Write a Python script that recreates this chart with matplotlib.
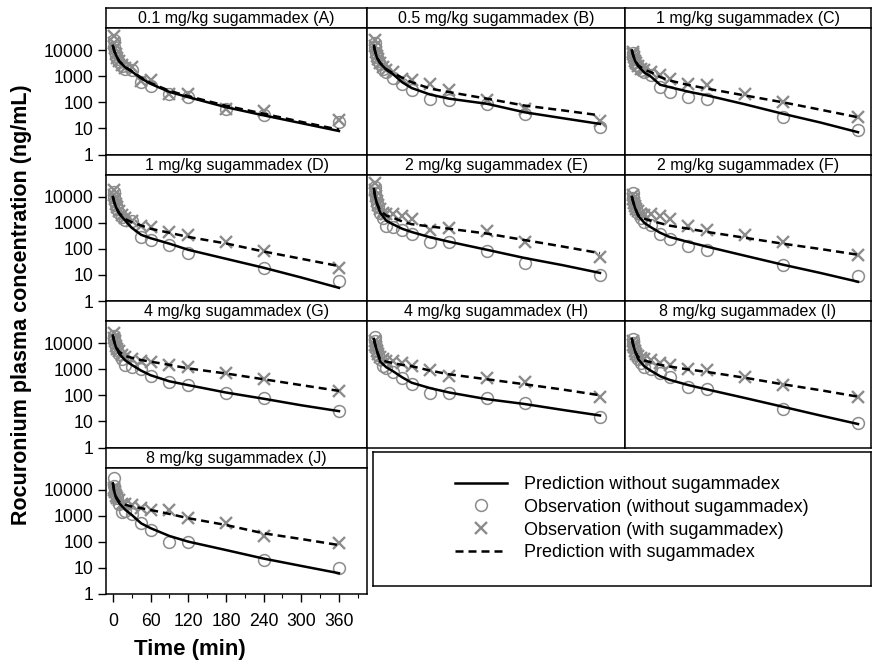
import numpy as np
import matplotlib
matplotlib.use("Agg")
import matplotlib.pyplot as plt
from matplotlib.ticker import FixedLocator, NullFormatter, LogLocator, FixedFormatter

plt.rcParams['font.family'] = ['Liberation Sans', 'DejaVu Sans']

nan = float('nan')

# ---------------- data ----------------
T_PRED = [0, 2, 5, 10, 20, 30, 45, 60, 90, 120, 180, 240, 300, 360]
T_OBS = [1, 2, 3, 5, 7, 10, 15, 20, 30, 45, 60, 90, 120, 180, 240, 360]

A_title = "0.1 mg/kg sugammadex (A)"
A_pred_without = [15000, 10000, 6500, 3800, 2200, 1550, 850, 520, 255, 160, 66, 32, 16, 8]
A_pred_with = [15000, 10000, 6500, 3900, 2300, 1600, 900, 560, 280, 175, 75, 37, 18, 9]
A_obs_without = [25000, 14000, 9000, 6000, 4500, 3500, 2500, 2000, 1800, 600, 430, 210, 160, 55, 33, 17]
A_obs_with = [35000, 20000, 12000, 7000, 5000, 3800, 2800, 2200, 2300, 650, 700, 215, 215, 58, 48, 22]

B_title = "0.5 mg/kg sugammadex (B)"
B_pred_without = [15000, 9000, 5200, 3200, 1800, 1250, 600, 360, 200, 140, 89, 42, 25, 15]
B_pred_with = [15000, 9000, 5200, 3300, 1900, 1350, 900, 600, 340, 250, 140, 76, 50, 32]
B_obs_without = [20000, 12000, 8000, 5500, 4000, 3000, 2000, 1500, 900, 520, 290, 140, 120, 89, 37, 11]
B_obs_with = [25000, 15000, 9000, 6000, 4500, 3300, 2300, 1800, 1470, 800, 700, 520, 290, 120, 58, 20]

C_title = "1 mg/kg sugammadex (C)"
C_pred_without = [10000, 6500, 4000, 2500, 1400, 1000, 480, 390, 260, 186, 85, 37, 17, 7.2]
C_pred_with = [10000, 6500, 4200, 2700, 1800, 1480, 950, 700, 470, 340, 186, 102, 53, 27]
C_obs_without = [8000, 6000, 4500, 3500, 2800, 2500, 1800, 1500, 1100, 390, 250, 160, 140, nan, 27, 8.4]
C_obs_with = [9000, 7000, 5500, 4000, 3200, 2600, 2000, 1700, 1480, 1100, 810, 520, 450, 215, 102, 28]

D_title = "1 mg/kg sugammadex (D)"
D_pred_without = [10000, 6500, 4000, 2300, 1200, 650, 350, 260, 160, 93, 42, 19, 8, 3.2]
D_pred_with = [10000, 6500, 4000, 2400, 1400, 1070, 800, 600, 420, 290, 163, 80, 42, 22]
D_obs_without = [15000, 10000, 7000, 5000, 3500, 2500, 1700, 1300, 1200, 290, 220, 142, 69, nan, 19, 6]
D_obs_with = [18000, 12000, 8000, 5500, 4000, 3000, 2000, 1600, 1200, 790, 690, 450, 340, 190, 80, 19]

E_title = "2 mg/kg sugammadex (E)"
E_pred_without = [20000, 10000, 5500, 2500, 1200, 900, 600, 450, 280, 190, 93, 45, 24, 12]
E_pred_with = [20000, 10000, 5500, 3000, 1900, 1600, 1150, 900, 730, 600, 390, 220, 125, 69]
E_obs_without = [25000, 14000, 9000, 6000, 4000, 2500, 1500, 790, 700, 520, 390, 190, 190, 85, 29, 10]
E_obs_with = [35000, 18000, 11000, 7000, 5000, 3500, 2500, 2200, 2200, 1900, 1400, 560, 630, 480, 190, 48]

F_title = "2 mg/kg sugammadex (F)"
F_pred_without = [10000, 6500, 3800, 1900, 1000, 690, 420, 290, 185, 122, 55, 25, 12, 5.5]
F_pred_with = [10000, 6500, 3800, 2000, 1450, 1230, 980, 790, 600, 450, 270, 160, 100, 60]
F_obs_without = [14000, 9000, 6000, 4500, 3500, 2500, 1500, 1070, 800, 390, 250, 134, 93, nan, 24, 9.3]
F_obs_with = [12000, 8000, 6000, 4500, 3500, 2800, 2300, 2100, 2180, 1800, 1400, 760, 560, 340, 190, 60]

G_title = "4 mg/kg sugammadex (G)"
G_pred_without = [20000, 12000, 7000, 4000, 2200, 1500, 900, 600, 350, 250, 130, 75, 42, 25]
G_pred_with = [20000, 12000, 7500, 4800, 3300, 2800, 2300, 2000, 1500, 1100, 700, 420, 250, 150]
G_obs_without = [20000, 15000, 10000, 7000, 5500, 4000, 2500, 1500, 1200, 1000, 550, 320, 250, 130, 80, 26]
G_obs_with = [25000, 16000, 12000, 8000, 6000, 5000, 3500, 3000, 2500, 2200, 2000, 1500, 1200, 700, 420, 150]

H_title = "4 mg/kg sugammadex (H)"
H_pred_without = [15000, 9000, 5000, 2000, 1200, 870, 500, 310, 190, 130, 72, 47, 28, 17]
H_pred_with = [15000, 9000, 5000, 2400, 2000, 1780, 1500, 1340, 900, 650, 420, 270, 170, 102]
H_obs_without = [18000, 12000, 8000, 5000, 3500, 2500, 1340, 1100, 800, 480, 270, 122, 128, 83, 51, 14.5]
H_obs_with = [12000, 9000, 7000, 5000, 4000, 3000, 2500, 2200, 2080, 1780, 1340, 940, 560, 480, 330, 91]

I_title = "8 mg/kg sugammadex (I)"
I_pred_without = [15000, 9000, 5000, 2500, 1300, 900, 550, 400, 250, 170, 80, 37, 17, 8]
I_pred_with = [15000, 9000, 5000, 3000, 2200, 1900, 1500, 1300, 1000, 800, 480, 270, 160, 90]
I_obs_without = [15000, 10000, 7000, 5000, 3500, 2500, 1700, 1300, 1000, 700, 500, 220, 180, nan, 30, 8.5]
I_obs_with = [12000, 9000, 7000, 5000, 4000, 3200, 2800, 2500, 2300, 1800, 1500, 1000, 950, 500, 260, 90]

J_title = "8 mg/kg sugammadex (J)"
J_pred_without = [18000, 9000, 5000, 3100, 1700, 1100, 520, 340, 170, 103, 49, 23, 12, 6.3]
J_pred_with = [18000, 9000, 5500, 3500, 2700, 2300, 2000, 1700, 1200, 820, 450, 215, 130, 76]
J_obs_without = [30000, 14000, 9000, 6500, 5000, 3000, 1470, 1500, 1200, 520, 290, 103, 103, nan, 21, 9.8]
J_obs_with = [12000, 10000, 8000, 6000, 5000, 4000, 3000, 2800, 2650, 2000, 1700, 1700, 820, 550, 170, 89]

Y_TICKS = [1, 10, 100, 1000, 10000]
Y_TICK_LABELS = ["1", "10", "100", "1000", "10000"]
X_TICKS = [0, 60, 120, 180, 240, 300, 360]
X_MINOR = [30, 90, 150, 210, 270, 330, 390]

LEGEND_LABELS = ["Prediction without sugammadex", "Observation (without sugammadex)",
                 "Observation (with sugammadex)", "Prediction with sugammadex"]

panels = [
    (A_title, A_pred_without, A_pred_with, A_obs_without, A_obs_with),
    (B_title, B_pred_without, B_pred_with, B_obs_without, B_obs_with),
    (C_title, C_pred_without, C_pred_with, C_obs_without, C_obs_with),
    (D_title, D_pred_without, D_pred_with, D_obs_without, D_obs_with),
    (E_title, E_pred_without, E_pred_with, E_obs_without, E_obs_with),
    (F_title, F_pred_without, F_pred_with, F_obs_without, F_obs_with),
    (G_title, G_pred_without, G_pred_with, G_obs_without, G_obs_with),
    (H_title, H_pred_without, H_pred_with, H_obs_without, H_obs_with),
    (I_title, I_pred_without, I_pred_with, I_obs_without, I_obs_with),
    (J_title, J_pred_without, J_pred_with, J_obs_without, J_obs_with),
]

# ---------------- layout ----------------
W, H = 872, 668
fig = plt.figure(figsize=(W / 100, H / 100), dpi=100)


def fax(x0, y0, w, h):
    return fig.add_axes([x0 / W, 1 - (y0 + h) / H, w / W, h / H])


GRAY = "#8c8c8c"
SPINE_LW = 1.1
col_left = [106, 367, 625]
col_w = [261, 258, 246]
row_top = [8, 154.5, 301, 447.5]
title_h = 20
data_h = 126.5
px_per_min = 0.628
xmin = -11

handles = None
for idx, (title, pwo, pw, owo, ow) in enumerate(panels):
    r, c = divmod(idx, 3)
    ax_t = fax(col_left[c], row_top[r], col_w[c], title_h)
    ax_t.set_xticks([])
    ax_t.set_yticks([])
    for s in ax_t.spines.values():
        s.set_linewidth(SPINE_LW)
    ax_t.text(0.5, 0.47, title, ha='center', va='center', fontsize=11.5,
              transform=ax_t.transAxes)

    ax = fax(col_left[c], row_top[r] + title_h, col_w[c], data_h)
    for s in ax.spines.values():
        s.set_linewidth(SPINE_LW)
    ax.set_yscale('log')
    ax.set_ylim(1, 7.3e4)
    ax.set_xlim(xmin, xmin + col_w[c] / px_per_min)

    h_circ, = ax.plot(T_OBS, owo, linestyle='none', marker='o', mfc='none',
                      mec=GRAY, ms=8.5, mew=1.1, zorder=2)
    h_x, = ax.plot(T_OBS, ow, linestyle='none', marker='x', color=GRAY,
                   ms=8.5, mew=1.7, zorder=2)
    h_solid, = ax.plot(T_PRED, pwo, '-', color='black', lw=1.8, zorder=3)
    h_dash, = ax.plot(T_PRED, pw, '--', color='black', lw=1.8, dashes=(3.2, 2.0), zorder=3)
    if handles is None:
        handles = [h_solid, h_circ, h_x, h_dash]

    if c == 0:
        ax.yaxis.set_major_locator(FixedLocator(Y_TICKS))
        ax.yaxis.set_major_formatter(FixedFormatter(Y_TICK_LABELS))
        ax.yaxis.set_minor_locator(LogLocator(base=10, subs=np.arange(2, 10)))
        ax.yaxis.set_minor_formatter(NullFormatter())
        ax.tick_params(axis='y', which='major', direction='out', length=6,
                       width=1, labelsize=12.7, pad=3)
        ax.tick_params(axis='y', which='minor', direction='out', length=3, width=0.6)
    else:
        ax.yaxis.set_major_locator(FixedLocator([]))
        ax.yaxis.set_minor_locator(FixedLocator([]))
    if idx == 9:
        ax.xaxis.set_major_locator(FixedLocator(X_TICKS))
        ax.xaxis.set_minor_locator(FixedLocator(X_MINOR))
        ax.set_xticklabels([str(v) for v in X_TICKS])
        ax.tick_params(axis='x', which='major', direction='out', length=6,
                       width=1, labelsize=12.7, pad=8)
        ax.tick_params(axis='x', which='minor', direction='out', length=3, width=0.8)
    else:
        ax.xaxis.set_major_locator(FixedLocator([]))
        ax.xaxis.set_minor_locator(FixedLocator([]))

# legend box
ax_leg = fax(373, 452, 498, 134)
ax_leg.set_xticks([])
ax_leg.set_yticks([])
for s in ax_leg.spines.values():
    s.set_linewidth(SPINE_LW)
ax_leg.legend(handles, LEGEND_LABELS, loc='upper left',
              bbox_to_anchor=(455 / W, 1 - 476 / H), bbox_transform=fig.transFigure,
              frameon=False, fontsize=13, handlelength=2.9, handletextpad=0.9,
              labelspacing=0.32, borderpad=0, borderaxespad=0, numpoints=1)

fig.text(22 / W, 1 - 305 / H, "Rocuronium plasma concentration (ng/mL)", rotation=90,
         ha='center', va='center', fontsize=15.5, fontweight='bold')
fig.text(190 / W, 1 - 650 / H, "Time (min)", ha='center', va='center',
         fontsize=16, fontweight='bold')

fig.savefig("out.png", dpi=100)
